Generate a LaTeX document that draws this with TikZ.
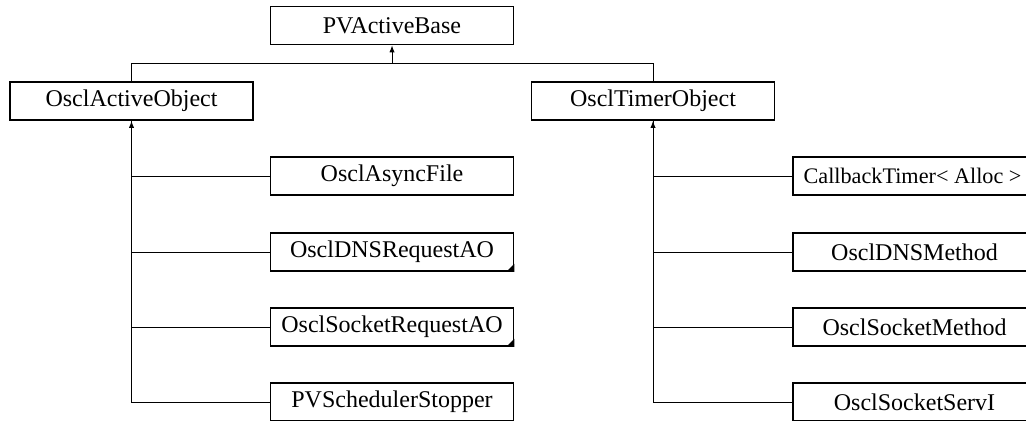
\documentclass[tikz,border=0pt]{standalone}
\usepackage{fontspec}
\setmainfont{Liberation Serif}
\usepackage{tikz}
\usetikzlibrary{arrows.meta,positioning}
\tikzset{
  classbox/.style={rectangle, draw, line width=0.75pt, minimum width=121.5pt, minimum height=19pt, inner sep=0pt, align=center, font=\fontsize{12}{14}\selectfont},
  link/.style={line width=0.5pt},
  inherit/.style={link, -{Latex[length=3.5pt,width=2.6pt]}},
}

\begin{document}
\begin{tikzpicture}[x=0.5pt, y=-0.5pt]
  \clip (0,0) rectangle (1026,420);

  % Base class
  \node[classbox] (base) at (392,25.5) {PVActiveBase};

  % Second level
  \node[classbox] (aobj) at (131.5,101) {OsclActiveObject};
  \node[classbox] (tobj) at (653,101) {OsclTimerObject};

  % Derived from OsclActiveObject
  \node[classbox] (asyncfile) at (392,176) {OsclAsyncFile};
  \node[classbox] (dnsreq) at (392,252) {OsclDNSRequestAO};
  \node[classbox] (sockreq) at (392,327) {OsclSocketRequestAO};
  \node[classbox] (stopper) at (392,402) {PVSchedulerStopper};

  % Derived from OsclTimerObject
  \node[classbox] (cbtimer) at (914.5,176) {};
  \node[font=\fontsize{11.1}{13}\selectfont, inner sep=0pt] (cbtext) at (912.5,176) {CallbackTimer< Alloc >};
  \node[classbox] (dnsmeth) at (914.5,252) {OsclDNSMethod};
  \node[classbox] (sockmeth) at (914.5,327) {OsclSocketMethod};
  \node[classbox] (sockserv) at (914.5,402) {OsclSocketServI};

  % Corner marks
  \foreach \n in {dnsreq,sockreq}
    \fill (\n.south east) -- ++(-8,0) -- ++(8,-8) -- cycle;

  % Arrows
  \coordinate (bus) at (392,63);
  \draw[link] (aobj.north) |- (bus) -| (tobj.north);
  \draw[inherit] (bus) -- (base.south);

  \foreach \n in {asyncfile,dnsreq,sockreq}
    \draw[link] (\n.west) -| (aobj.south);
  \draw[inherit] (stopper.west) -| (aobj.south);

  \foreach \n in {cbtimer,dnsmeth,sockmeth}
    \draw[link] (\n.west) -| (tobj.south);
  \draw[inherit] (sockserv.west) -| (tobj.south);

\end{tikzpicture}
\end{document}
